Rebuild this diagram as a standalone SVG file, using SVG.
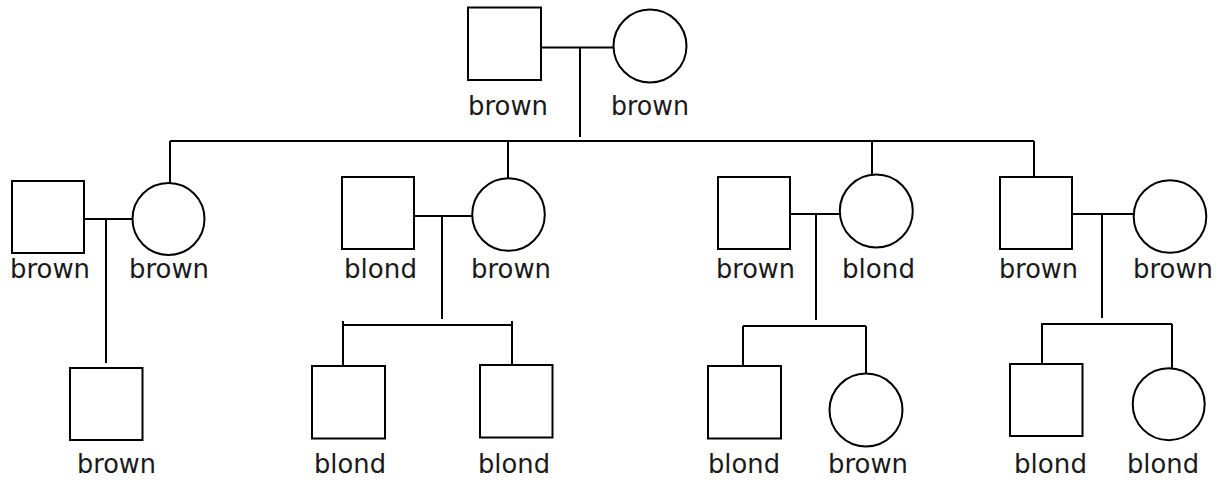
<svg xmlns="http://www.w3.org/2000/svg" width="1223" height="480" viewBox="0 0 1223 480">
<style>
.n{fill:#fff;stroke:#000;stroke-width:2}
.c{fill:none;stroke:#000;stroke-width:2}
text{font-family:"DejaVu Sans","Liberation Sans",sans-serif;font-size:27px;fill:#1a1a1a}
</style>
<rect width="1223" height="480" fill="#fff"/>
<g id="connectors" class="c">
<path d="M541 47.5H613M580 47.5V137M170 141H1034M170 141V183M508 141V178M872 141V174.5M1034 141V177"/>
<path d="M84 219H132M106 219V363"/>
<path d="M414 216H472M442 216V319M343 325H512M343 321V366M512 321V364"/>
<path d="M790 214H840M816 214V320M743 326H866M743 326V366M866 326V373.5"/>
<path d="M1072 214H1134M1102 214V318M1041 324H1172M1042 324V366M1172 324V368"/>
</g>
<g id="g1-father"><rect class="n" x="468" y="7.5" width="73" height="72.5"/><text x="468" y="115" textLength="80" lengthAdjust="spacingAndGlyphs">brown</text></g>
<g id="g1-mother"><circle class="n" cx="650" cy="46" r="36.5"/><text x="611" y="115" textLength="78" lengthAdjust="spacingAndGlyphs">brown</text></g>

<g id="a-husband"><rect class="n" x="12" y="181" width="72" height="72"/><text x="10" y="278" textLength="80" lengthAdjust="spacingAndGlyphs">brown</text></g>
<g id="a-wife"><circle class="n" cx="168.5" cy="219" r="36"/><text x="129" y="278" textLength="80" lengthAdjust="spacingAndGlyphs">brown</text></g>
<g id="a-child"><rect class="n" x="70" y="368" width="72.5" height="72"/><text x="77" y="473" textLength="79" lengthAdjust="spacingAndGlyphs">brown</text></g>

<g id="b-husband"><rect class="n" x="342" y="177" width="72" height="72"/><text x="344" y="278" textLength="73" lengthAdjust="spacingAndGlyphs">blond</text></g>
<g id="b-wife"><circle class="n" cx="508.5" cy="214.5" r="36.3"/><text x="471" y="278" textLength="80" lengthAdjust="spacingAndGlyphs">brown</text></g>
<g id="b-child1"><rect class="n" x="312" y="366" width="73" height="72.5"/><text x="314" y="473" textLength="72" lengthAdjust="spacingAndGlyphs">blond</text></g>
<g id="b-child2"><rect class="n" x="480" y="365" width="72.5" height="72.5"/><text x="478" y="473" textLength="72" lengthAdjust="spacingAndGlyphs">blond</text></g>

<g id="c-husband"><rect class="n" x="718" y="177" width="72" height="72"/><text x="716" y="278" textLength="79" lengthAdjust="spacingAndGlyphs">brown</text></g>
<g id="c-wife"><circle class="n" cx="876.3" cy="211" r="36.5"/><text x="842" y="278" textLength="73" lengthAdjust="spacingAndGlyphs">blond</text></g>
<g id="c-child1"><rect class="n" x="708" y="366" width="73" height="72.5"/><text x="708" y="473" textLength="72" lengthAdjust="spacingAndGlyphs">blond</text></g>
<g id="c-child2"><circle class="n" cx="866" cy="410" r="36.5"/><text x="828" y="473" textLength="80" lengthAdjust="spacingAndGlyphs">brown</text></g>

<g id="d-husband"><rect class="n" x="1000" y="177" width="72" height="72"/><text x="999" y="278" textLength="79" lengthAdjust="spacingAndGlyphs">brown</text></g>
<g id="d-wife"><circle class="n" cx="1170" cy="216.5" r="36.3"/><text x="1133" y="278" textLength="80" lengthAdjust="spacingAndGlyphs">brown</text></g>
<g id="d-child1"><rect class="n" x="1010" y="364" width="72.5" height="72"/><text x="1014" y="473" textLength="73" lengthAdjust="spacingAndGlyphs">blond</text></g>
<g id="d-child2"><circle class="n" cx="1168.7" cy="404.2" r="36"/><text x="1127" y="473" textLength="72" lengthAdjust="spacingAndGlyphs">blond</text></g>
</svg>
